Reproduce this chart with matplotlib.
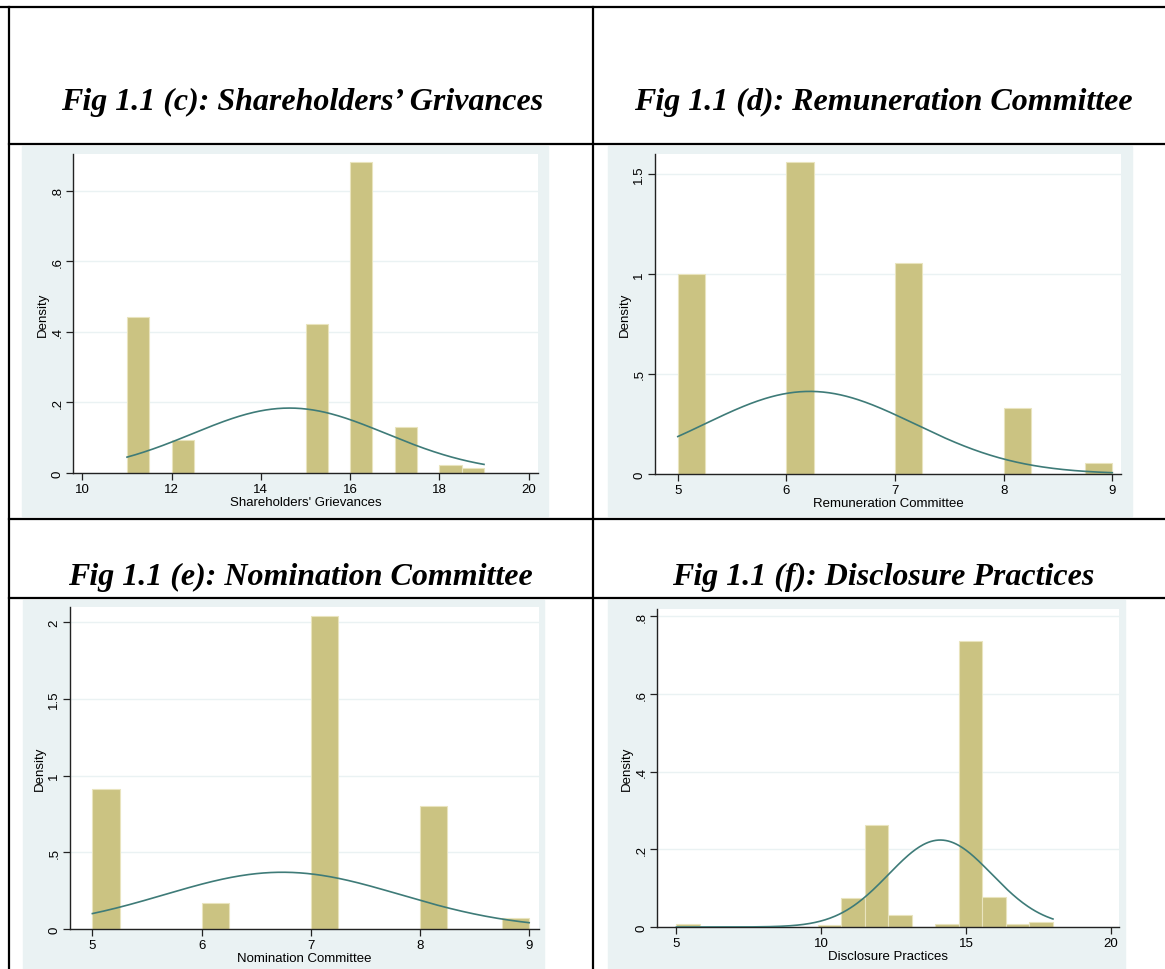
import numpy as np
import matplotlib.pyplot as plt
from matplotlib.patches import Rectangle

# ---- data ----
# (c) Shareholders' Grievances: bins of 0.5 from 11 to 19
c_start, c_width = 11, 0.5
c_density = [0.4415, 0, 0.0925, 0, 0, 0, 0, 0, 0.4226, 0, 0.880, 0, 0.130, 0, 0.0217, 0.0142]
c_mean, c_sd = 14.64, 2.168
c_xticks = [10, 12, 14, 16, 18, 20]
c_yticks = [0, 0.2, 0.4, 0.6, 0.8]
c_ylabels = ["0", ".2", ".4", ".6", ".8"]

# (d) Remuneration Committee: bins of 0.25 from 5 to 9
d_start, d_width = 5, 0.25
d_density = [1.0, 0, 0, 0, 1.558, 0, 0, 0, 1.053, 0, 0, 0, 0.328, 0, 0, 0.055]
d_mean, d_sd = 6.215, 0.966
d_xticks = [5, 6, 7, 8, 9]
d_yticks = [0, 0.5, 1, 1.5]
d_ylabels = ["0", ".5", "1", "1.5"]

# (e) Nomination Committee: bins of 0.25 from 5 to 9
e_start, e_width = 5, 0.25
e_density = [0.913, 0, 0, 0, 0.170, 0, 0, 0, 2.043, 0, 0, 0, 0.802, 0, 0, 0.070]
e_mean, e_sd = 6.74, 1.078
e_xticks = [5, 6, 7, 8, 9]
e_yticks = [0, 0.5, 1, 1.5, 2]
e_ylabels = ["0", ".5", "1", "1.5", "2"]

# (f) Disclosure Practices: 16 bins from 5 to 18
f_start, f_width = 5, 0.8125
f_density = [0.0086, 0, 0, 0, 0, 0, 0.0043, 0.0739, 0.263, 0.0309, 0, 0.0086, 0.7364, 0.0782, 0.0086, 0.0129]
f_mean, f_sd = 14.11, 1.781
f_xticks = [5, 10, 15, 20]
f_yticks = [0, 0.2, 0.4, 0.6, 0.8]
f_ylabels = ["0", ".2", ".4", ".6", ".8"]

titles = ["Fig 1.1 (c): Shareholders\u2019 Grivances", "Fig 1.1 (d): Remuneration Committee",
          "Fig 1.1 (e): Nomination Committee", "Fig 1.1 (f): Disclosure Practices"]
xlabels = ["Shareholders' Grievances", "Remuneration Committee",
           "Nomination Committee", "Disclosure Practices"]

W, H = 1165, 970
BG = "#EAF2F3"
BAR = "#CBC382"
CURVE = "#3E7B78"

fig = plt.figure(figsize=(W / 100, H / 100), dpi=100)
plt.rcParams["font.family"] = ["Liberation Sans", "DejaVu Sans"]


def frac(l, t, r, b):
    return [l / W, 1 - b / H, (r - l) / W, (b - t) / H]


def line(x0, y0, x1, y1):
    fig.add_artist(plt.Line2D([x0 / W, x1 / W], [1 - y0 / H, 1 - y1 / H],
                              color="black", lw=1.6, transform=fig.transFigure))


def panel(bg, box, start, width, dens, mu, sd, xlim, ylim, xticks, yticks, ylabels, xlabel):
    l, t, r, b = bg
    fig.add_artist(Rectangle((l / W, 1 - b / H), (r - l) / W, (b - t) / H,
                             transform=fig.transFigure, color=BG, zorder=0))
    ax = fig.add_axes(frac(*box))
    ax.set_facecolor("white")
    edges = start + width * np.arange(len(dens))
    ax.bar(edges, dens, width=width, align="edge", color=BAR,
           edgecolor="#E9E4BE", linewidth=0.8, zorder=2)
    lo, hi = start, start + width * len(dens)
    xs = np.linspace(lo, hi, 300)
    ys = np.exp(-0.5 * ((xs - mu) / sd) ** 2) / (sd * np.sqrt(2 * np.pi))
    ax.plot(xs, ys, color=CURVE, lw=1.2, zorder=3)
    ax.set_xlim(*xlim)
    ax.set_ylim(*ylim)
    ax.set_xticks(xticks)
    ax.set_yticks(yticks)
    ax.set_yticklabels(ylabels, rotation=90, va="center")
    ax.grid(axis="y", color=BG, lw=1.0, zorder=1)
    ax.set_axisbelow(True)
    for s in ["top", "right"]:
        ax.spines[s].set_visible(False)
    for s in ["left", "bottom"]:
        ax.spines[s].set_color("#222222")
        ax.spines[s].set_linewidth(1.0)
    ax.tick_params(length=5, width=0.9, color="#222222", labelsize=9.5, pad=2)
    ax.set_xlabel(xlabel, fontsize=9.5, labelpad=1)
    ax.set_ylabel("Density", fontsize=9.5, labelpad=2)
    return ax


panel((22, 147, 548, 517), (73, 155, 538, 474), c_start, c_width, c_density, c_mean, c_sd,
      (9.79, 20.21), (0, 0.904), c_xticks, c_yticks, c_ylabels, xlabels[0])
panel((608, 147, 1132, 517), (655, 155, 1121, 475), d_start, d_width, d_density, d_mean, d_sd,
      (4.79, 9.08), (0, 1.60), d_xticks, d_yticks, d_ylabels, xlabels[1])
panel((23, 601, 544, 970), (70, 608, 539, 930), e_start, e_width, e_density, e_mean, e_sd,
      (4.795, 9.09), (0, 2.10), e_xticks, e_yticks, e_ylabels, xlabels[2])
panel((608, 601, 1125, 970), (657, 610, 1119, 928), f_start, f_width, f_density, f_mean, f_sd,
      (4.33, 20.28), (0, 0.819), f_xticks, f_yticks, f_ylabels, xlabels[3])

# table rules
line(0, 8, W, 8)
line(9, 8, 9, H)
line(593, 8, 593, H)
for y in (145, 520, 599):
    line(9, y, W, y)

title_pos = [(302, 102), (883, 102), (300, 577), (883, 577)]
for (x, y), txt in zip(title_pos, titles):
    fig.text(x / W, 1 - y / H, txt, ha="center", va="center",
             family=["Liberation Serif", "DejaVu Serif"], style="italic",
             weight="bold", fontsize=23)

fig.savefig("out.png", dpi=100)
